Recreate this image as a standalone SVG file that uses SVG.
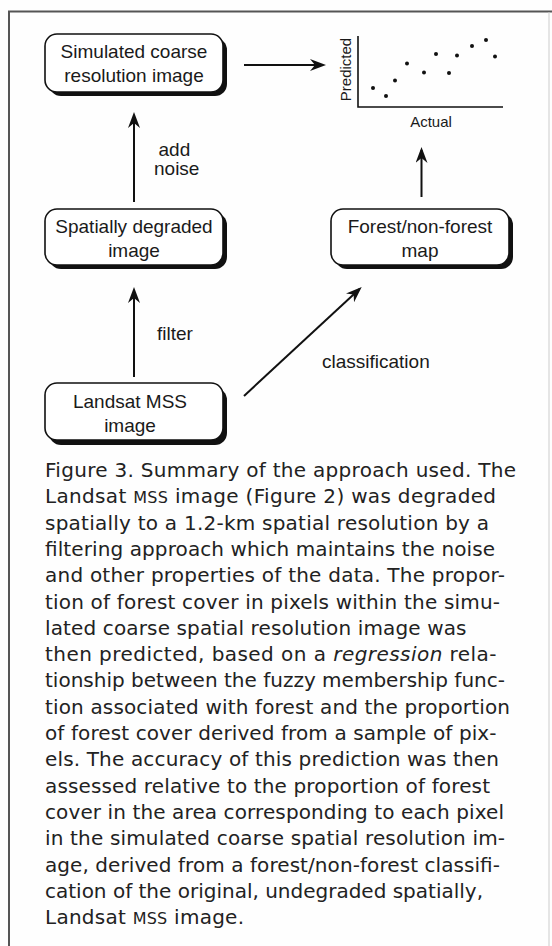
<svg xmlns="http://www.w3.org/2000/svg" width="552" height="946" viewBox="0 0 552 946">
<defs>
<marker id="ah" viewBox="0 0 16 12" refX="13" refY="6" markerWidth="16" markerHeight="12" markerUnits="userSpaceOnUse" orient="auto">
<path d="M0,0 L16,6 L0,12 L5,6 Z" fill="#111"/>
</marker>
<style>
.shadow{fill:#111;}
.box{fill:#fff;stroke:#111;stroke-width:1.6;}
.nt{font-family:"Liberation Sans",Arial,sans-serif;font-size:19px;fill:#1a1a1a;text-anchor:middle;}
.lbl{font-family:"Liberation Sans",Arial,sans-serif;font-size:19px;fill:#1a1a1a;}
.ax{font-family:"Liberation Sans",Arial,sans-serif;font-size:15px;fill:#1a1a1a;text-anchor:middle;}
.conn{stroke:#111;stroke-width:2;fill:none;marker-end:url(#ah);}
.cap{font-family:"DejaVu Sans","Liberation Sans",sans-serif;font-size:20px;fill:#222;}
.sc{font-size:16px;}
.dot{fill:#111;}
</style>
</defs>
<rect width="552" height="946" fill="#fefefe"/>
<g id="frame">
<path d="M9,946 V11.5 H552" fill="none" stroke="#555" stroke-width="2"/>
<line x1="549" y1="12" x2="549" y2="946" stroke="#ccc" stroke-width="1"/>
</g>
<g id="node-simulated">
<rect class="shadow" x="49" y="38" width="178" height="58" rx="12"/>
<rect class="box" x="45" y="34" width="178" height="58" rx="12"/>
<text class="nt" x="134" y="58">Simulated coarse</text>
<text class="nt" x="134" y="82">resolution image</text>
</g>
<g id="node-spatially">
<rect class="shadow" x="49" y="213" width="178" height="56" rx="12"/>
<rect class="box" x="45" y="209" width="178" height="56" rx="12"/>
<text class="nt" x="134" y="233">Spatially degraded</text>
<text class="nt" x="134" y="257">image</text>
</g>
<g id="node-forest">
<rect class="shadow" x="335" y="213" width="178" height="56" rx="12"/>
<rect class="box" x="331" y="209" width="178" height="56" rx="12"/>
<text class="nt" x="420" y="233">Forest/non-forest</text>
<text class="nt" x="420" y="257">map</text>
</g>
<g id="node-landsat">
<rect class="shadow" x="49" y="388" width="178" height="57" rx="12"/>
<rect class="box" x="45" y="383" width="178" height="57" rx="12"/>
<text class="nt" x="130" y="408">Landsat MSS</text>
<text class="nt" x="130" y="432">image</text>
</g>
<g id="node-plot">
<path d="M358,36 V107 H503" fill="none" stroke="#111" stroke-width="1.6"/>
<text class="ax" transform="translate(351,69.5) rotate(-90)">Predicted</text>
<text class="ax" x="431" y="127">Actual</text>
<circle class="dot" cx="373" cy="88" r="2"/>
<circle class="dot" cx="386" cy="96" r="2"/>
<circle class="dot" cx="395" cy="80.5" r="2"/>
<circle class="dot" cx="407" cy="63.5" r="2"/>
<circle class="dot" cx="424" cy="72.5" r="2"/>
<circle class="dot" cx="436" cy="54" r="2"/>
<circle class="dot" cx="449" cy="73" r="2"/>
<circle class="dot" cx="457" cy="55.5" r="2"/>
<circle class="dot" cx="472" cy="46" r="2"/>
<circle class="dot" cx="486" cy="40" r="2"/>
<circle class="dot" cx="495" cy="56.5" r="2"/>
</g>
<g id="connectors">
<line class="conn" x1="244" y1="65" x2="323" y2="65"/>
<line class="conn" x1="134" y1="202" x2="134" y2="115"/>
<line class="conn" x1="134" y1="377" x2="134" y2="290"/>
<line class="conn" x1="421.5" y1="197" x2="421.5" y2="150"/>
<line class="conn" x1="244" y1="396" x2="359.5" y2="289"/>
<text class="lbl" x="158.5" y="156">add</text>
<text class="lbl" x="154" y="175">noise</text>
<text class="lbl" x="157" y="340">filter</text>
<text class="lbl" x="322" y="368">classification</text>
</g>
<g id="caption">
<text class="cap" x="45" y="477" textLength="471">Figure 3. Summary of the approach used. The</text>
<text class="cap" x="45" y="503.3" textLength="451">Landsat <tspan class="sc">MSS</tspan> image (Figure 2) was degraded</text>
<text class="cap" x="45" y="529.6" textLength="444">spatially to a 1.2-km spatial resolution by a</text>
<text class="cap" x="45" y="555.9" textLength="450">filtering approach which maintains the noise</text>
<text class="cap" x="45" y="582.2" textLength="460">and other properties of the data. The propor-</text>
<text class="cap" x="45" y="608.5" textLength="455">tion of forest cover in pixels within the simu-</text>
<text class="cap" x="45" y="634.8" textLength="421.5">lated coarse spatial resolution image was</text>
<text class="cap" x="45" y="661.1" textLength="451.5">then predicted, based on a <tspan font-style="italic">regression</tspan> rela-</text>
<text class="cap" x="45" y="687.4" textLength="460">tionship between the fuzzy membership func-</text>
<text class="cap" x="45" y="713.7" textLength="465">tion associated with forest and the proportion</text>
<text class="cap" x="45" y="740" textLength="451.5">of forest cover derived from a sample of pix-</text>
<text class="cap" x="45" y="766.3" textLength="454">els. The accuracy of this prediction was then</text>
<text class="cap" x="45" y="792.6" textLength="445">assessed relative to the proportion of forest</text>
<text class="cap" x="45" y="818.9" textLength="459">cover in the area corresponding to each pixel</text>
<text class="cap" x="45" y="845.2" textLength="460">in the simulated coarse spatial resolution im-</text>
<text class="cap" x="45" y="871.5" textLength="455">age, derived from a forest/non-forest classifi-</text>
<text class="cap" x="45" y="897.8" textLength="438">cation of the original, undegraded spatially,</text>
<text class="cap" x="45" y="924" textLength="199">Landsat <tspan class="sc">MSS</tspan> image.</text>
</g>
</svg>
